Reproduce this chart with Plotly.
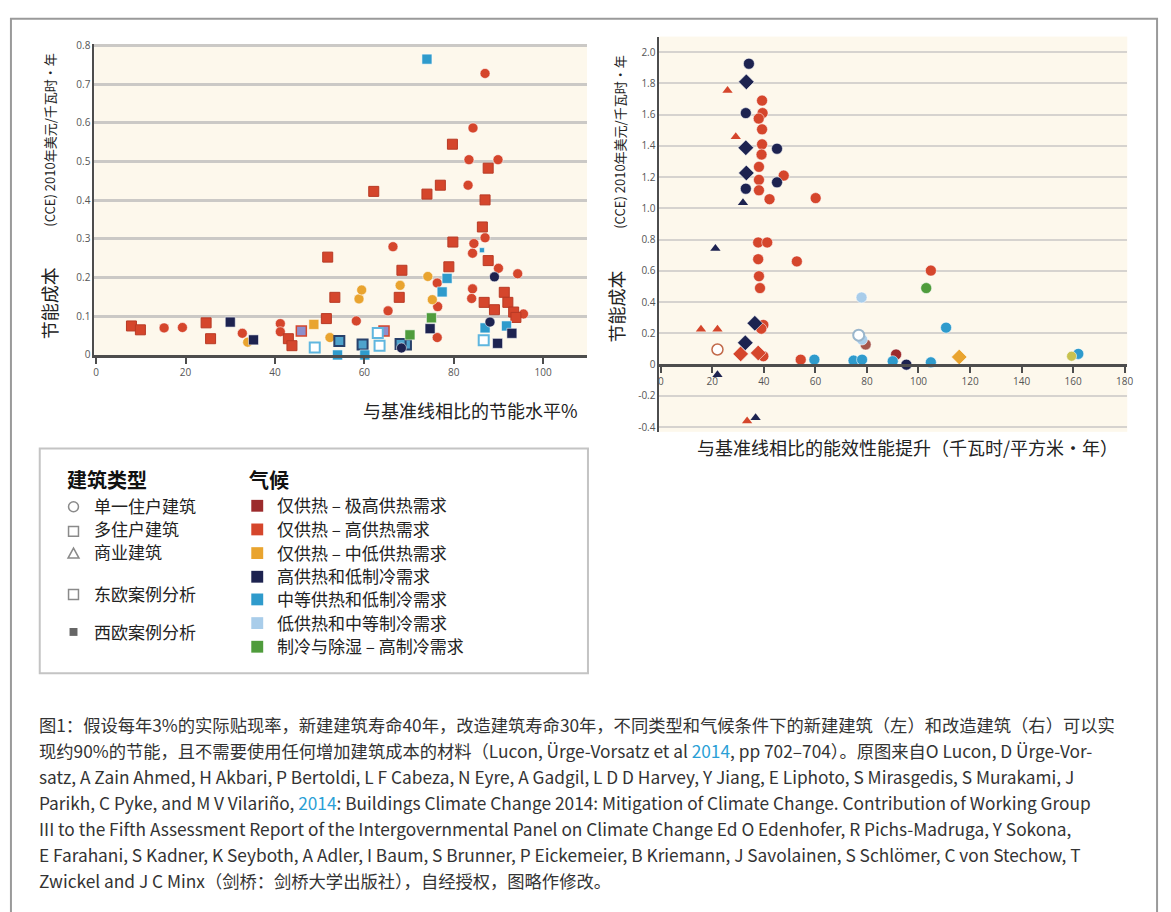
import plotly.graph_objects as go

W, H = 1171, 912

# ---------------- colours (climate) ----------------
C_VHIGH = "#9c2b2c"   # 仅供热 – 极高供热需求
C_HIGH = "#d5462c"    # 仅供热 – 高供热需求
C_MID = "#e9a42f"     # 仅供热 – 中低供热需求
C_NAVY = "#1d2350"    # 高供热和低制冷需求
C_BLUE = "#2f9bcc"    # 中等供热和低制冷需求
C_LBLUE = "#a9cdea"   # 低供热和中等制冷需求
C_GREEN = "#4f9c3c"   # 制冷与除湿 – 高制冷需求
C_YGREEN = "#c8c24f"
C_LAV = "#8d8fcc"
C_ROSE = "#a5564c"

# ---------------- left panel: new buildings ----------------
L_HIGH_SQ_X = [7.9, 9.9, 24.6, 25.6, 43.0, 43.8, 51.5, 51.8, 53.4, 62.1, 67.8, 68.4, 74.0, 77.0,
               78.9, 79.7, 79.8, 86.4, 87.0, 87.7, 87.7, 86.8, 89.1, 91.3, 92.1, 93.4, 93.9]
L_HIGH_SQ_Y = [0.075, 0.065, 0.083, 0.042, 0.042, 0.024, 0.094, 0.253, 0.149, 0.423, 0.149, 0.219, 0.416, 0.439,
               0.228, 0.545, 0.292, 0.331, 0.401, 0.483, 0.244, 0.136, 0.117, 0.162, 0.136, 0.111, 0.097]
L_HIGH_CI_X = [15.2, 19.3, 32.7, 41.2, 41.2, 58.2, 65.3, 66.4, 76.3, 76.4, 76.3, 83.2, 83.4, 84.3,
               84.5, 84.2, 84.2, 84.0, 87.0, 87.0, 89.9, 90.0, 94.3, 95.6]
L_HIGH_CI_Y = [0.070, 0.071, 0.056, 0.081, 0.060, 0.088, 0.114, 0.280, 0.186, 0.125, 0.045, 0.439, 0.505, 0.587,
               0.288, 0.263, 0.171, 0.146, 0.728, 0.303, 0.505, 0.224, 0.210, 0.106]
L_MID_CI_X = [33.9, 52.3, 58.8, 59.4, 68.0, 74.2, 75.2]
L_MID_CI_Y = [0.033, 0.045, 0.145, 0.168, 0.180, 0.203, 0.143]
L_MID_SQ_X = [48.7]
L_MID_SQ_Y = [0.079]
L_NAVY_SQ_X = [30.0, 35.2, 74.7, 89.8, 93.0]
L_NAVY_SQ_Y = [0.085, 0.039, 0.068, 0.030, 0.056]
L_NAVY_CI_X = [88.1, 89.1, 68.3]
L_NAVY_CI_Y = [0.085, 0.202, 0.018]
L_BLUE_SQ_X = [74.0, 78.5, 77.4, 87.0, 91.8, 54.0, 60.1]
L_BLUE_SQ_Y = [0.765, 0.198, 0.163, 0.070, 0.075, 0.0, 0.0]
L_BLUE_SMALL_X = [86.3]
L_BLUE_SMALL_Y = [0.271]
L_WEST_SQ_X = [54.4, 59.6, 69.3, 68.1]
L_WEST_SQ_Y = [0.036, 0.027, 0.027, 0.028]
L_EAST_SQ_X = [48.9, 63.0, 63.4, 86.7]
L_EAST_SQ_Y = [0.019, 0.057, 0.024, 0.038]
L_LAV_SQ_X = [45.9, 64.4]
L_LAV_SQ_Y = [0.062, 0.062]
L_GREEN_SQ_X = [75.0, 70.2]
L_GREEN_SQ_Y = [0.096, 0.052]

# ---------------- right panel: retrofits ----------------
R_NAVY_CI_X = [34.2, 33.0, 45.1, 33.0, 45.1, 95.3]
R_NAVY_CI_Y = [1.926, 1.610, 1.382, 1.126, 1.167, 0.0]
R_NAVY_DI_X = [33.2, 33.0, 33.2, 36.5, 32.8]
R_NAVY_DI_Y = [1.810, 1.388, 1.227, 0.265, 0.140]
R_NAVY_TR_X = [31.9, 21.2, 22.0, 36.8]
R_NAVY_TR_Y = [1.037, 0.743, -0.065, -0.340]
R_HIGH_TR_X = [25.9, 29.1, 15.6, 22.0, 33.5]
R_HIGH_TR_Y = [1.754, 1.459, 0.226, 0.226, -0.361]
R_HIGH_CI_X = [39.3, 39.5, 38.0, 39.3, 39.3, 39.1, 38.1, 38.1, 38.1, 47.7, 42.2, 60.1, 37.8, 41.3,
               37.8, 52.8, 38.1, 38.5, 104.8, 39.8, 39.8, 54.3, 39.0]
R_HIGH_CI_Y = [1.690, 1.610, 1.575, 1.506, 1.410, 1.345, 1.266, 1.183, 1.116, 1.210, 1.059, 1.066, 0.782, 0.782,
               0.675, 0.661, 0.566, 0.490, 0.602, 0.254, 0.054, 0.032, 0.230]
R_HIGH_DI_X = [31.0, 37.8]
R_HIGH_DI_Y = [0.069, 0.075]
R_VHIGH_CI_X = [91.3]
R_VHIGH_CI_Y = [0.065]
R_ROSE_CI_X = [79.5]
R_ROSE_CI_Y = [0.129]
R_OPEN_CI_X = [22.0]
R_OPEN_CI_Y = [0.097]
R_LBLUE_CI_X = [77.9, 78.1]
R_LBLUE_CI_Y = [0.430, 0.161]
R_LBLUE_OPEN_X = [76.8]
R_LBLUE_OPEN_Y = [0.189]
R_BLUE_CI_X = [59.6, 74.8, 78.1, 90.0, 104.8, 110.7, 162.0]
R_BLUE_CI_Y = [0.032, 0.026, 0.032, 0.022, 0.015, 0.237, 0.069]
R_GREEN_CI_X = [103.0]
R_GREEN_CI_Y = [0.490]
R_YGREEN_CI_X = [159.4]
R_YGREEN_CI_Y = [0.054]
R_MID_DI_X = [115.8]
R_MID_DI_Y = [0.049]

# ---------------- ticks ----------------
L_XTICKS = [0, 20, 40, 60, 80, 100]
L_YTICKS = [0, 0.1, 0.2, 0.3, 0.4, 0.5, 0.6, 0.7, 0.8]
L_YTEXT = ["0", "0.1", "0.2", "0.3", "0.4", "0.5", "0.6", "0.7", "0.8"]
R_XTICKS = [0, 20, 40, 60, 80, 100, 120, 140, 160, 180]
R_YTICKS = [-0.4, -0.2, 0, 0.2, 0.4, 0.6, 0.8, 1.0, 1.2, 1.4, 1.6, 1.8, 2.0]
R_YTEXT = ["-0.4", "-0.2", "0", "0.2", "0.4", "0.6", "0.8", "1.0", "1.2", "1.4", "1.6", "1.8", "2.0"]

# ---------------- legend text ----------------
TYPE_TITLE = "建筑类型"
TYPE_LABELS = ["单一住户建筑", "多住户建筑", "商业建筑", "东欧案例分析", "西欧案例分析"]
CLIMATE_TITLE = "气候"
CLIMATE_LABELS = ["仅供热 – 极高供热需求", "仅供热 – 高供热需求", "仅供热 – 中低供热需求",
                  "高供热和低制冷需求", "中等供热和低制冷需求", "低供热和中等制冷需求", "制冷与除湿 – 高制冷需求"]
CLIMATE_COLORS = [C_VHIGH, C_HIGH, C_MID, C_NAVY, C_BLUE, C_LBLUE, C_GREEN]

BLUE_2014 = "<span style='color:#2a9fd6'>2014</span>"
CAPTION = [
    "图1：假设每年3%的实际贴现率，新建建筑寿命40年，改造建筑寿命30年，不同类型和气候条件下的新建建筑（左）和改造建筑（右）可以实",
    "现约90%的节能，且不需要使用任何增加建筑成本的材料（Lucon, Ürge-Vorsatz et al " + BLUE_2014 + ", pp 702–704）。原图来自O Lucon, D Ürge-Vor-",
    "satz, A Zain Ahmed, H Akbari, P Bertoldi, L F Cabeza, N Eyre, A Gadgil, L D D Harvey, Y Jiang, E Liphoto, S Mirasgedis, S Murakami, J",
    "Parikh, C Pyke, and M V Vilariño, " + BLUE_2014 + ": Buildings Climate Change 2014: Mitigation of Climate Change. Contribution of Working Group",
    "III to the Fifth Assessment Report of the Intergovernmental Panel on Climate Change Ed O Edenhofer, R Pichs-Madruga, Y Sokona,",
    "E Farahani, S Kadner, K Seyboth, A Adler, I Baum, S Brunner, P Eickemeier, B Kriemann, J Savolainen, S Schlömer, C von Stechow, T",
    "Zwickel and J C Minx（剑桥：剑桥大学出版社），自经授权，图略作修改。",
]

CJK = "Noto Sans CJK SC, Noto Sans, sans-serif"
TICKFONT = dict(family="Open Sans, Noto Sans, sans-serif", size=10, color="#555555")


def fx(px):
    return px / W


def fy(py):
    return 1 - py / H


fig = go.Figure()


def add(xs, ys, axes, symbol, color, size, line_color="rgba(255,255,255,0.55)", line_width=1):
    fig.add_trace(go.Scatter(
        x=xs, y=ys, mode="markers", xaxis=axes[0], yaxis=axes[1], cliponaxis=False,
        marker=dict(symbol=symbol, color=color, size=size, line=dict(color=line_color, width=line_width)),
        hoverinfo="x+y"))


LA = ("x", "y")
RA = ("x2", "y2")
# left panel
add(L_HIGH_CI_X, L_HIGH_CI_Y, LA, "circle", C_HIGH, 10)
add(L_HIGH_SQ_X, L_HIGH_SQ_Y, LA, "square", C_HIGH, 10, "#b83a25", 1)
add(L_MID_CI_X, L_MID_CI_Y, LA, "circle", C_MID, 10)
add(L_MID_SQ_X, L_MID_SQ_Y, LA, "square", C_MID, 10)
add(L_LAV_SQ_X, L_LAV_SQ_Y, LA, "square", C_LAV, 10, C_HIGH, 1.5)
add(L_EAST_SQ_X, L_EAST_SQ_Y, LA, "square", "white", 10, "#5fb6df", 2)
add(L_WEST_SQ_X, L_WEST_SQ_Y, LA, "square", "#4ea3cc", 10, "#28416a", 2)
add(L_BLUE_SQ_X, L_BLUE_SQ_Y, LA, "square", C_BLUE, 10)
add(L_BLUE_SMALL_X, L_BLUE_SMALL_Y, LA, "square", C_BLUE, 5)
add(L_GREEN_SQ_X, L_GREEN_SQ_Y, LA, "square", C_GREEN, 10)
add(L_NAVY_SQ_X, L_NAVY_SQ_Y, LA, "square", C_NAVY, 10)
add(L_NAVY_CI_X, L_NAVY_CI_Y, LA, "circle", C_NAVY, 10)
# right panel
add(R_HIGH_CI_X, R_HIGH_CI_Y, RA, "circle", C_HIGH, 11)
add(R_HIGH_DI_X, R_HIGH_DI_Y, RA, "diamond", C_HIGH, 12)
add(R_HIGH_TR_X, R_HIGH_TR_Y, RA, "triangle-up", C_HIGH, 9, C_HIGH, 0)
add(R_VHIGH_CI_X, R_VHIGH_CI_Y, RA, "circle", C_VHIGH, 11)
add(R_ROSE_CI_X, R_ROSE_CI_Y, RA, "circle", C_ROSE, 11)
add(R_OPEN_CI_X, R_OPEN_CI_Y, RA, "circle", "white", 11, "#c26a4a", 1.5)
add(R_LBLUE_CI_X, R_LBLUE_CI_Y, RA, "circle", C_LBLUE, 11)
add(R_LBLUE_OPEN_X, R_LBLUE_OPEN_Y, RA, "circle", "white", 11, "#9ab6cc", 2)
add(R_BLUE_CI_X, R_BLUE_CI_Y, RA, "circle", C_BLUE, 11)
add(R_GREEN_CI_X, R_GREEN_CI_Y, RA, "circle", C_GREEN, 11)
add(R_YGREEN_CI_X, R_YGREEN_CI_Y, RA, "circle", C_YGREEN, 10)
add(R_MID_DI_X, R_MID_DI_Y, RA, "diamond", C_MID, 12)
add(R_NAVY_CI_X, R_NAVY_CI_Y, RA, "circle", C_NAVY, 11)
add(R_NAVY_DI_X, R_NAVY_DI_Y, RA, "diamond", C_NAVY, 12)
add(R_NAVY_TR_X, R_NAVY_TR_Y, RA, "triangle-up", C_NAVY, 9, C_NAVY, 0)

fig.update_layout(
    width=W, height=H, margin=dict(l=0, r=0, t=0, b=0),
    paper_bgcolor="white", plot_bgcolor="#fdf8ec", showlegend=False,
    font=dict(family=CJK, color="#222222"),
    xaxis=dict(domain=[fx(93), fx(589)], range=[-0.4, 109.8], anchor="y",
               tickvals=L_XTICKS, showgrid=False, zeroline=False,
               showline=True, linecolor="#4d4d4d", linewidth=3,
               ticks="outside", ticklen=6, tickwidth=2, tickcolor="#4d4d4d",
               tickfont=TICKFONT, fixedrange=True),
    yaxis=dict(domain=[fy(354), fy(39)], range=[0, 0.803], anchor="x",
               tickvals=L_YTICKS, ticktext=L_YTEXT, showgrid=True, gridcolor="#cbc9c6", gridwidth=3,
               zeroline=False, showline=True, linecolor="#4d4d4d", linewidth=2,
               ticks="", tickfont=TICKFONT, fixedrange=True),
    xaxis2=dict(domain=[fx(662), fx(1133)], range=[-0.5, 181], anchor="free",
                position=fy(31 + 2.1 * 401 / 2.53),
                tickvals=R_XTICKS, showgrid=False, zeroline=False,
                showline=True, linecolor="#4d4d4d", linewidth=3,
                ticks="outside", ticklen=6, tickwidth=2, tickcolor="#4d4d4d",
                tickfont=TICKFONT, fixedrange=True),
    yaxis2=dict(domain=[fy(432), fy(31)], range=[-0.43, 2.1], anchor="x2",
                tickvals=R_YTICKS, ticktext=R_YTEXT, showgrid=True, gridcolor="#d6d3cf", gridwidth=2,
                zeroline=False, showline=True, linecolor="#4d4d4d", linewidth=2,
                ticks="", tickfont=TICKFONT, fixedrange=True),
)

ann = []
shapes = []


def text(x, y, s, size, xanchor="left", angle=0, color="#222222"):
    ann.append(dict(x=fx(x), y=fy(y), xref="paper", yref="paper", xanchor=xanchor, yanchor="middle",
                    text=s, textangle=angle, showarrow=False, align="left",
                    font=dict(size=size, color=color)))


# axis titles
for xc, yc1, xc2, yc2 in ((47, 136, 47, 302), (621, 138, 618, 305)):
    text(xc, yc1, "(CCE) 2010年美元/千瓦时·年", 13, "center", -90)
    text(xc2, yc2, "节能成本", 18, "center", -90)
text(582, 410, "与基准线相比的节能水平%", 18, "right")
text(1126, 447, "与基准线相比的能效性能提升（千瓦时/平方米·年）", 18, "right")

# outer frame
shapes.append(dict(type="rect", xref="paper", yref="paper", x0=fx(9), x1=fx(1163), y0=fy(940), y1=fy(13),
                   line=dict(color="#9a9a9a", width=2), layer="below"))
# legend box
shapes.append(dict(type="rect", xref="paper", yref="paper", x0=fx(38), x1=fx(590), y0=fy(677), y1=fy(449),
                   line=dict(color="#c4c4c4", width=2), fillcolor="white", layer="below"))

text(63, 480, "<b>" + TYPE_TITLE + "</b>", 20, color="#111111")
text(247, 480, "<b>" + CLIMATE_TITLE + "</b>", 20, color="#111111")

type_y = [507, 530, 553, 596, 635]
for lbl, yy in zip(TYPE_LABELS, type_y):
    text(91, yy, lbl, 17)
gl = dict(color="#8a8a8a", width=1.5)
shapes.append(dict(type="circle", xref="paper", yref="paper", x0=fx(67), x1=fx(77), y0=fy(513), y1=fy(503), line=gl))
shapes.append(dict(type="rect", xref="paper", yref="paper", x0=fx(67), x1=fx(77), y0=fy(538), y1=fy(528), line=gl))
shapes.append(dict(type="path", xref="paper", yref="paper",
                   path="M %f %f L %f %f L %f %f Z" % (fx(66.5), fy(560), fx(77.5), fy(560), fx(72), fy(550)), line=gl))
shapes.append(dict(type="rect", xref="paper", yref="paper", x0=fx(67), x1=fx(77), y0=fy(602), y1=fy(592), line=gl))
shapes.append(dict(type="rect", xref="paper", yref="paper", x0=fx(68), x1=fx(76), y0=fy(639), y1=fy(631),
                   line=dict(color="#666666", width=0), fillcolor="#666666"))

clim_y = [506, 530, 554, 578, 601, 625, 649]
for lbl, col, yy in zip(CLIMATE_LABELS, CLIMATE_COLORS, clim_y):
    shapes.append(dict(type="rect", xref="paper", yref="paper", x0=fx(251), x1=fx(263), y0=fy(yy + 7), y1=fy(yy - 5),
                       line=dict(width=0), fillcolor=col))
    text(275, yy, lbl, 17)

# caption
for i, line in enumerate(CAPTION):
    text(35, 729 + i * 26.3, line, 17.3, color="#333333")

fig.update_layout(annotations=ann, shapes=shapes)
fig.write_html("out.html", config={"displayModeBar": False},
               post_script="document.body.style.margin='0';document.body.style.overflow='hidden';")
